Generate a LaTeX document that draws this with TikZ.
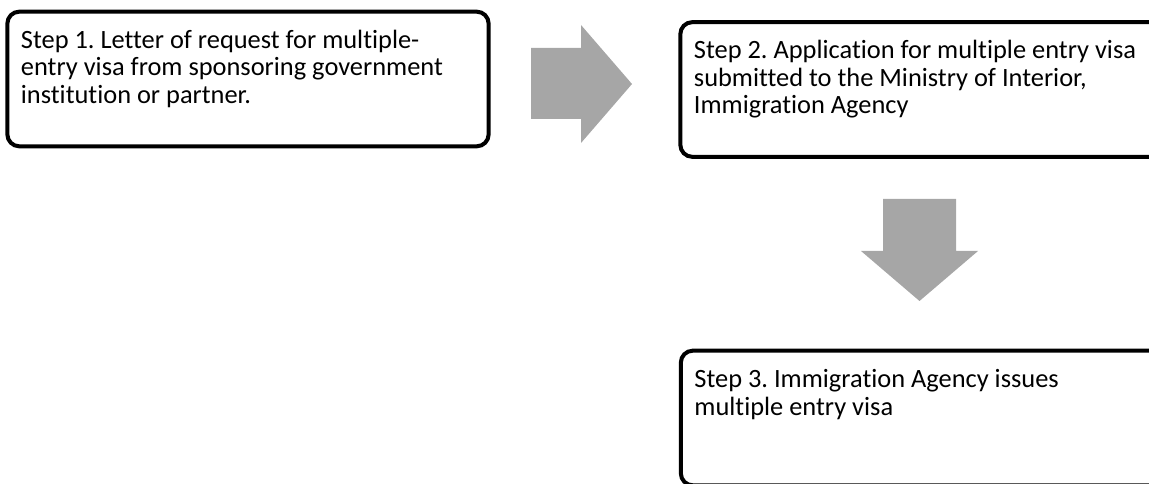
\documentclass[tikz,border=0pt]{standalone}
\usepackage{fontspec}
\setmainfont{Carlito}[Ligatures={NoCommon}]
\usetikzlibrary{positioning}
\definecolor{arrowgray}{RGB}{166,166,166}
\tikzstyle{stepbox} = [rectangle, rounded corners=9pt, minimum width=361pt, minimum height=101pt, draw=black, fill=white, line width=3pt]
\tikzstyle{steptext} = [inner sep=0pt, align=left, font=\fontsize{19.8}{20.6}\selectfont\frenchspacing]
\tikzstyle{blockarrow} = [fill=arrowgray, draw=none]

\begin{document}
\begin{tikzpicture}[x=0.75pt, y=-0.75pt]
	\useasboundingbox (0,0) rectangle (1149,484);
	\clip (0,0) rectangle (1149,484);
	% boxes
	\node[stepbox] (box1) at (248,79) {};
	\node[stepbox] (box2) at (921,89.5) {};
	\node[stepbox] (box3) at (921.5,418) {};
	% texts
	\node[steptext, below right=15pt and 11.5pt of box1.north west] (text1) {Step 1. Letter of request for multiple-\\entry visa from sponsoring government\\institution or partner.};
	\node[steptext, below right=15pt and 11.5pt of box2.north west] (text2) {Step 2. Application for multiple entry visa\\submitted to the Ministry of Interior,\\Immigration Agency};
	\node[steptext, below right=15.5pt and 11.5pt of box3.north west] (text3) {Step 3. Immigration Agency issues\\multiple entry visa};
	% arrows
	\fill[blockarrow] (531,48) -- (581,48) -- (581,25) -- (632,84) -- (581,143) -- (581,119) -- (531,119) -- cycle;
	\fill[blockarrow] (883,199) -- (956,199) -- (956,251) -- (978,251) -- (919.5,301) -- (861,251) -- (883,251) -- cycle;
\end{tikzpicture}
\end{document}
